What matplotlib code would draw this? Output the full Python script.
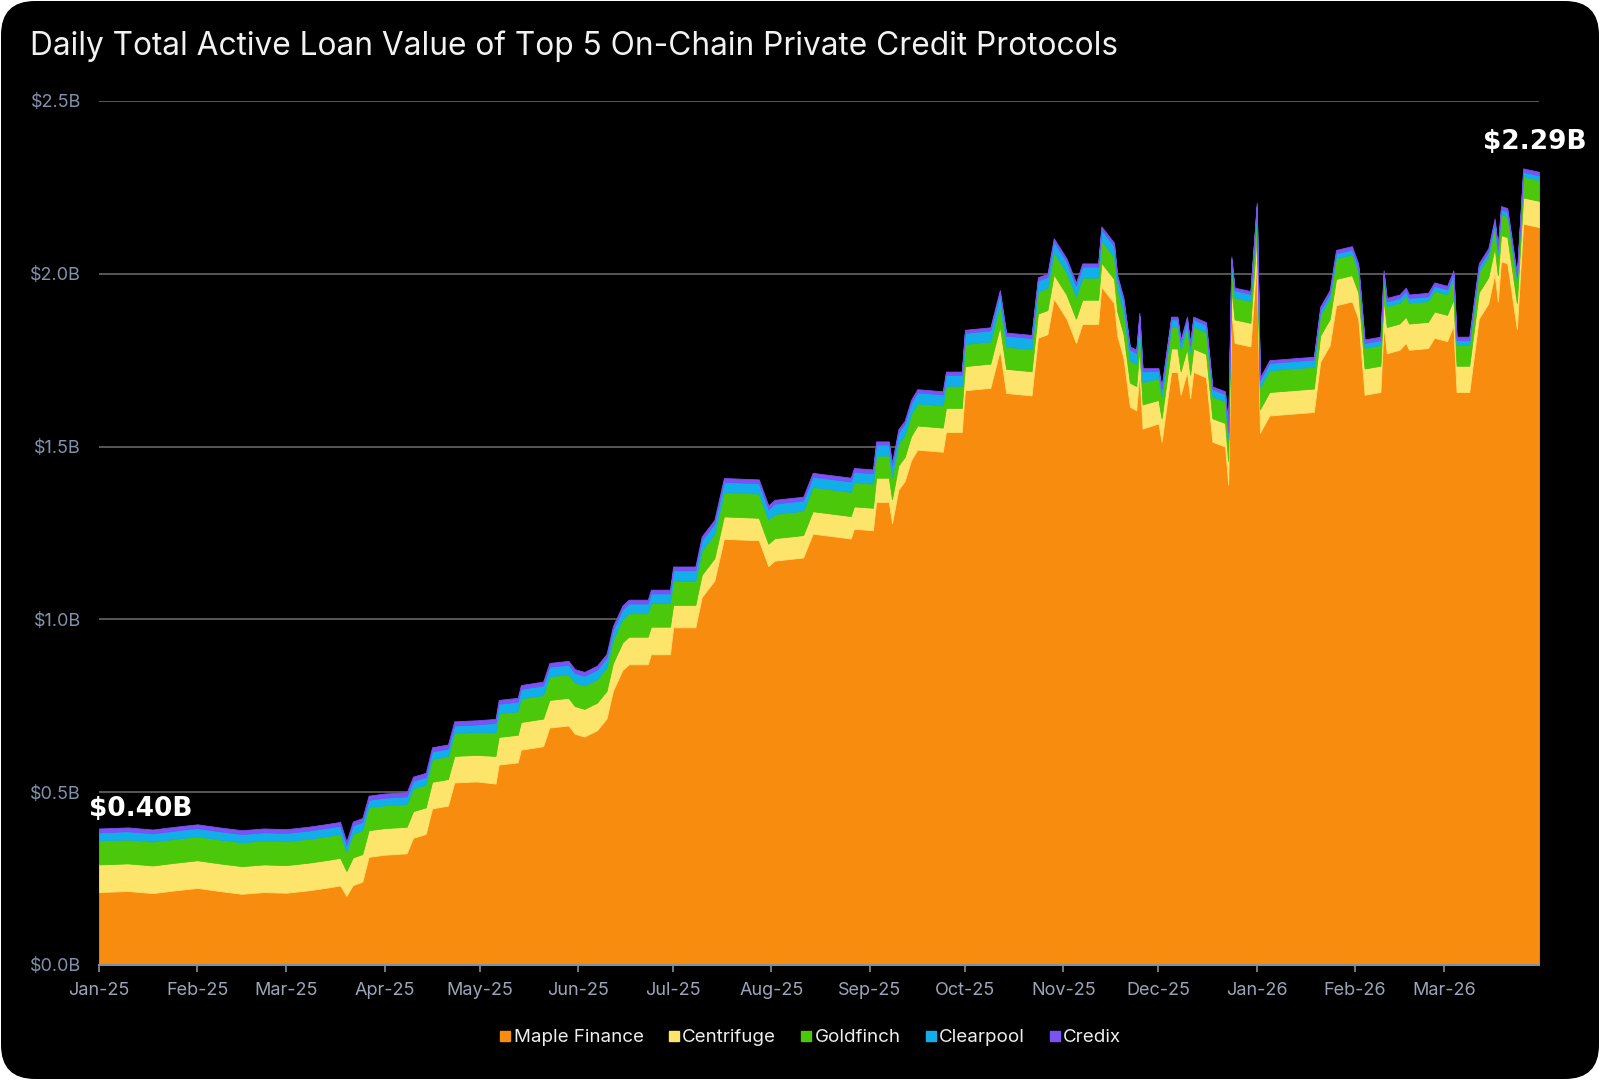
import matplotlib
matplotlib.use("Agg")
import matplotlib.pyplot as plt
import matplotlib.dates as mdates
from matplotlib.patches import FancyBboxPatch
from matplotlib.lines import Line2D
from matplotlib.transforms import IdentityTransform
import pandas as pd

# values in $B
dates = [
    "2025-01-01", "2025-01-10", "2025-01-18", "2025-01-25", "2025-02-01", "2025-02-08",
    "2025-02-15", "2025-02-22", "2025-03-01", "2025-03-08", "2025-03-14", "2025-03-18",
    "2025-03-20", "2025-03-22", "2025-03-25",
    "2025-03-27", "2025-04-01", "2025-04-08", "2025-04-10", "2025-04-14", "2025-04-16",
    "2025-04-21", "2025-04-23", "2025-04-30",
    "2025-05-06", "2025-05-07", "2025-05-13", "2025-05-14", "2025-05-21", "2025-05-23",
    "2025-05-29", "2025-05-31", "2025-06-03", "2025-06-07", "2025-06-10", "2025-06-12",
    "2025-06-15", "2025-06-17", "2025-06-23", "2025-06-24", "2025-06-30",
    "2025-07-01", "2025-07-08", "2025-07-10", "2025-07-14", "2025-07-17", "2025-07-28",
    "2025-07-31", "2025-08-02", "2025-08-11", "2025-08-14", "2025-08-26", "2025-08-27",
    "2025-09-02",
    "2025-09-03", "2025-09-07", "2025-09-08", "2025-09-10", "2025-09-12", "2025-09-14",
    "2025-09-16", "2025-09-24", "2025-09-25", "2025-09-30", "2025-10-01", "2025-10-09",
    "2025-10-12", "2025-10-14", "2025-10-22", "2025-10-24", "2025-10-27", "2025-10-29",
    "2025-11-02", "2025-11-05", "2025-11-07", "2025-11-12", "2025-11-13", "2025-11-17",
    "2025-11-18", "2025-11-20", "2025-11-22", "2025-11-24", "2025-11-25", "2025-11-26",
    "2025-12-01", "2025-12-02", "2025-12-05", "2025-12-07", "2025-12-08", "2025-12-10",
    "2025-12-11", "2025-12-12", "2025-12-16", "2025-12-18", "2025-12-22", "2025-12-23",
    "2025-12-24", "2025-12-25", "2025-12-30", "2026-01-01", "2026-01-02", "2026-01-05",
    "2026-01-19",
    "2026-01-21", "2026-01-24", "2026-01-26", "2026-01-31", "2026-02-02", "2026-02-04",
    "2026-02-09", "2026-02-10", "2026-02-11", "2026-02-15", "2026-02-17", "2026-02-18",
    "2026-02-24", "2026-02-26", "2026-03-02", "2026-03-04", "2026-03-05", "2026-03-09",
    "2026-03-12", "2026-03-15", "2026-03-17", "2026-03-18", "2026-03-19", "2026-03-21",
    "2026-03-24", "2026-03-26", "2026-03-31",
]

maple = [
    0.211, 0.214, 0.208, 0.216, 0.223, 0.214, 0.206, 0.211, 0.209, 0.216, 0.224, 0.230,
    0.200, 0.231, 0.241,
    0.313, 0.319, 0.323, 0.368, 0.379, 0.453, 0.461, 0.528, 0.531,
    0.525, 0.580, 0.586, 0.623, 0.633, 0.687, 0.693, 0.669, 0.661, 0.679, 0.713, 0.793,
    0.853, 0.870, 0.870, 0.899, 0.899,
    0.977, 0.977, 1.064, 1.112, 1.233, 1.229, 1.154, 1.170, 1.179, 1.248, 1.234, 1.262,
    1.258,
    1.340, 1.340, 1.278, 1.375, 1.400, 1.460, 1.491, 1.485, 1.542, 1.542, 1.663, 1.670,
    1.778, 1.655, 1.648, 1.815, 1.825, 1.928, 1.870, 1.800, 1.855, 1.855, 1.962, 1.915,
    1.822, 1.755, 1.615, 1.605, 1.712, 1.552,
    1.567, 1.514, 1.716, 1.716, 1.650, 1.716, 1.640, 1.716, 1.700, 1.514, 1.500, 1.390,
    1.890, 1.800, 1.790, 2.045, 1.540, 1.590, 1.600,
    1.745, 1.793, 1.909, 1.920, 1.870, 1.650, 1.658, 1.850, 1.770, 1.780, 1.800, 1.780,
    1.785, 1.815, 1.805, 1.850, 1.658, 1.658, 1.870, 1.914, 2.000, 1.920, 2.036, 2.030,
    1.840, 2.145, 2.135,
]

centrifuge = [
    0.080, 0.080, 0.080, 0.080, 0.080, 0.080, 0.080, 0.080, 0.080, 0.080, 0.080, 0.080,
    0.072, 0.080, 0.080,
    0.077, 0.077, 0.077, 0.077, 0.077, 0.077, 0.077, 0.077, 0.077,
    0.080, 0.080, 0.080, 0.080, 0.080, 0.080, 0.080, 0.080, 0.080, 0.080, 0.080, 0.080,
    0.080, 0.080, 0.080, 0.080, 0.080,
    0.065, 0.065, 0.065, 0.065, 0.065, 0.065, 0.065, 0.065, 0.065, 0.065, 0.065, 0.065,
    0.065,
    0.070, 0.070, 0.070, 0.070, 0.070, 0.070, 0.070, 0.070, 0.070, 0.070, 0.070, 0.070,
    0.070, 0.070, 0.070, 0.070, 0.070, 0.070, 0.070, 0.070, 0.070, 0.070, 0.070, 0.070,
    0.070, 0.070, 0.070, 0.070, 0.070, 0.070,
    0.068, 0.068, 0.068, 0.068, 0.068, 0.068, 0.068, 0.068, 0.068, 0.068, 0.068, 0.068,
    0.068, 0.068, 0.068, 0.068, 0.068, 0.068, 0.068,
    0.076, 0.076, 0.076, 0.076, 0.076, 0.076, 0.076, 0.076, 0.076, 0.076, 0.076, 0.076,
    0.076, 0.076, 0.076, 0.076, 0.076, 0.076, 0.076, 0.076, 0.076, 0.076, 0.076, 0.076,
    0.076, 0.076, 0.076,
]

goldfinch = [
    0.069, 0.069, 0.069, 0.069, 0.069, 0.069, 0.069, 0.069, 0.069, 0.069, 0.069, 0.069,
    0.055, 0.069, 0.069,
    0.066, 0.066, 0.066, 0.066, 0.066, 0.066, 0.066, 0.066, 0.066,
    0.068, 0.068, 0.068, 0.068, 0.068, 0.068, 0.068, 0.068, 0.068, 0.068, 0.068, 0.068,
    0.068, 0.068, 0.068, 0.068, 0.068,
    0.070, 0.070, 0.070, 0.070, 0.070, 0.070, 0.070, 0.070, 0.070, 0.070, 0.070, 0.070,
    0.070,
    0.064, 0.064, 0.064, 0.064, 0.064, 0.064, 0.064, 0.064, 0.064, 0.064, 0.064, 0.064,
    0.064, 0.064, 0.064, 0.064, 0.064, 0.064, 0.064, 0.064, 0.064, 0.064, 0.064, 0.064,
    0.064, 0.064, 0.064, 0.064, 0.064, 0.064,
    0.063, 0.063, 0.063, 0.063, 0.063, 0.063, 0.063, 0.063, 0.063, 0.063, 0.063, 0.063,
    0.063, 0.063, 0.063, 0.063, 0.063, 0.063, 0.063,
    0.060, 0.060, 0.060, 0.060, 0.060, 0.060, 0.060, 0.060, 0.060, 0.060, 0.060, 0.060,
    0.060, 0.060, 0.060, 0.060, 0.060, 0.060, 0.060, 0.060, 0.060, 0.060, 0.060, 0.060,
    0.060, 0.060, 0.060,
]

clearpool = [
    0.024, 0.024, 0.024, 0.024, 0.024, 0.024, 0.024, 0.024, 0.024, 0.024, 0.024, 0.024,
    0.020, 0.024, 0.024,
    0.022, 0.022, 0.022, 0.022, 0.022, 0.022, 0.022, 0.022, 0.022,
    0.028, 0.028, 0.028, 0.028, 0.028, 0.028, 0.028, 0.028, 0.028, 0.028, 0.028, 0.028,
    0.028, 0.028, 0.028, 0.028, 0.028,
    0.030, 0.030, 0.030, 0.030, 0.030, 0.030, 0.030, 0.030, 0.030, 0.030, 0.030, 0.030,
    0.030,
    0.032, 0.032, 0.032, 0.032, 0.032, 0.032, 0.032, 0.032, 0.032, 0.032, 0.032, 0.032,
    0.032, 0.032, 0.032, 0.032, 0.032, 0.032, 0.032, 0.032, 0.032, 0.032, 0.032, 0.032,
    0.032, 0.032, 0.032, 0.032, 0.032, 0.032,
    0.021, 0.021, 0.021, 0.021, 0.021, 0.021, 0.021, 0.021, 0.021, 0.021, 0.021, 0.021,
    0.021, 0.021, 0.021, 0.021, 0.021, 0.021, 0.021,
    0.014, 0.014, 0.014, 0.014, 0.014, 0.014, 0.014, 0.014, 0.014, 0.014, 0.014, 0.014,
    0.014, 0.014, 0.014, 0.014, 0.014, 0.014, 0.014, 0.014, 0.014, 0.014, 0.014, 0.014,
    0.014, 0.014, 0.014,
]

credix = [
    0.011, 0.011, 0.011, 0.011, 0.011, 0.011, 0.011, 0.011, 0.011, 0.011, 0.011, 0.011,
    0.010, 0.011, 0.011,
    0.012, 0.012, 0.012, 0.012, 0.012, 0.012, 0.012, 0.012, 0.012,
    0.011, 0.011, 0.011, 0.011, 0.011, 0.011, 0.011, 0.011, 0.011, 0.011, 0.011, 0.011,
    0.011, 0.011, 0.011, 0.011, 0.011,
    0.011, 0.011, 0.011, 0.011, 0.011, 0.011, 0.011, 0.011, 0.011, 0.011, 0.011, 0.011,
    0.011,
    0.009, 0.009, 0.009, 0.009, 0.009, 0.009, 0.009, 0.009, 0.009, 0.009, 0.009, 0.009,
    0.009, 0.009, 0.009, 0.009, 0.009, 0.009, 0.009, 0.009, 0.009, 0.009, 0.009, 0.009,
    0.009, 0.009, 0.009, 0.009, 0.009, 0.009,
    0.008, 0.008, 0.008, 0.008, 0.008, 0.008, 0.008, 0.008, 0.008, 0.008, 0.008, 0.008,
    0.008, 0.008, 0.008, 0.008, 0.008, 0.008, 0.008,
    0.010, 0.010, 0.010, 0.010, 0.010, 0.010, 0.010, 0.010, 0.010, 0.010, 0.010, 0.010,
    0.010, 0.010, 0.010, 0.010, 0.010, 0.010, 0.010, 0.010, 0.010, 0.010, 0.010, 0.010,
    0.010, 0.010, 0.010,
]

protocols = ["Maple Finance", "Centrifuge", "Goldfinch", "Clearpool", "Credix"]
colors = ["#F78C0E", "#FDE46A", "#4CC80A", "#12AEE9", "#7A52F5"]
start_label = "$0.40B"
end_label = "$2.29B"

x = pd.to_datetime(dates)
series = [maple, centrifuge, goldfinch, clearpool, credix]

plt.rcParams['font.family'] = ['Inter', 'DejaVu Sans']

fig = plt.figure(figsize=(16, 10.8), dpi=100)
fig.patch.set_facecolor('white')
# black card with rounded corners
card = FancyBboxPatch((1, 1), 1598, 1078, boxstyle="round,pad=0,rounding_size=34",
                      transform=IdentityTransform(), facecolor='black',
                      edgecolor='none', zorder=-10)
fig.add_artist(card)

ax = fig.add_axes([0.0619, 0.1065, 0.9, 0.8])
ax.set_facecolor('none')

polys = ax.stackplot(x, *series, colors=colors, labels=protocols, zorder=2)
for p, c in zip(polys, colors):
    p.set_edgecolor(c)
    p.set_linewidth(0.6)

ax.set_ylim(0, 2.5)
ax.set_xlim(pd.Timestamp("2025-01-01"), pd.Timestamp("2026-03-31"))

ax.set_yticks([0, 0.5, 1.0, 1.5, 2.0, 2.5])
ax.set_yticklabels([f"${v:.1f}B" for v in [0, 0.5, 1.0, 1.5, 2.0, 2.5]])
ax.yaxis.grid(True, color='#5e5e5e', lw=1.3, zorder=0)
ax.xaxis.grid(False)
ax.set_axisbelow(True)

ax.xaxis.set_major_locator(mdates.MonthLocator())
ax.xaxis.set_major_formatter(mdates.DateFormatter('%b-%y'))

for s in ['top', 'right', 'left']:
    ax.spines[s].set_visible(False)
ax.spines['bottom'].set_color('#8190a6')
ax.spines['bottom'].set_linewidth(1.5)
ax.spines['bottom'].set_zorder(3)

ax.tick_params(axis='y', length=0, pad=13, labelsize=13, labelcolor='#8192ac')
ax.tick_params(axis='x', length=5, width=1.2, color='#8190a6', pad=7,
               labelsize=13, labelcolor='#9aa6b8')

fig.text(0.019, 0.9575, "Daily Total Active Loan Value of Top 5 On-Chain Private Credit Protocols",
         color='#f2f2f2', fontsize=22.8, ha='left', va='center')

ax.annotate(start_label, xy=(x[0], 0.452), xytext=(-10, 0), textcoords='offset pixels',
            ha='left', va='center', color='white', fontsize=19, fontweight='bold',
            family=['DejaVu Sans'])
ax.annotate(end_label, xy=(x[-1], 2.38), xytext=(48, 0), textcoords='offset pixels',
            ha='right', va='center', color='white', fontsize=19, fontweight='bold',
            family=['DejaVu Sans'], annotation_clip=False)

handles = [Line2D([], [], marker='s', linestyle='none', markersize=7,
                  markerfacecolor=c, markeredgecolor=c) for c in colors]
leg = fig.legend(handles, protocols, loc='center', bbox_to_anchor=(0.5066, 0.039), ncol=5,
                 frameon=False, handlelength=0.6, handletextpad=0.15, columnspacing=1.3,
                 fontsize=13.5, labelcolor='#eeeeee')

fig.savefig("out.png", dpi=100, facecolor=fig.get_facecolor())
